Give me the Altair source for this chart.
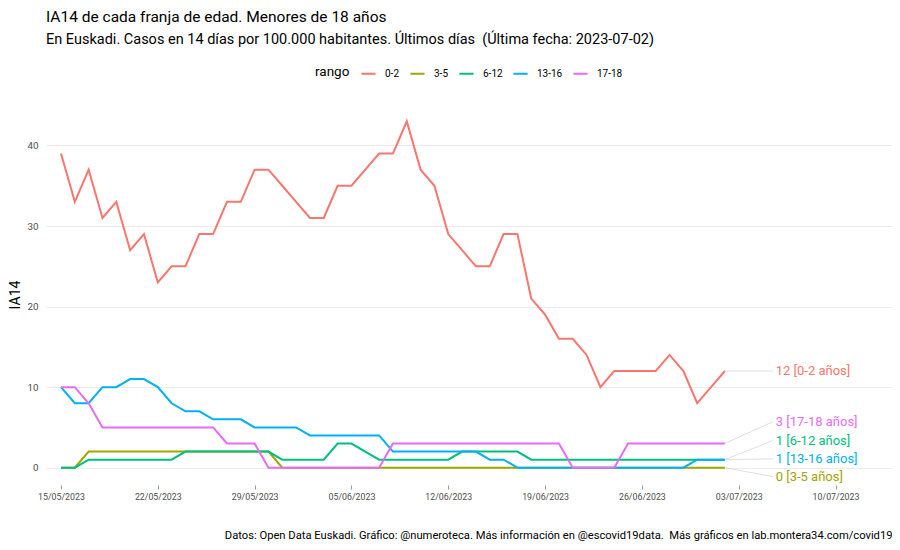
import altair as alt
import pandas as pd

FONT = "Roboto, sans-serif"

fechas = pd.date_range("2023-05-15", "2023-07-02", freq="D").strftime("%Y-%m-%d").tolist()
rangos = ["0-2", "3-5", "6-12", "13-16", "17-18"]
colores = ["#F8766D", "#A3A500", "#00BF7D", "#00B0F6", "#E76BF3"]

ia_0_2 = [39, 33, 37, 31, 33, 27, 29, 23, 25, 25, 29, 29, 33, 33, 37, 37, 35,
          33, 31, 31, 35, 35, 37, 39, 39, 43, 37, 35, 29, 27, 25, 25, 29, 29, 21, 19, 16, 16, 14, 10,
          12, 12, 12, 12, 14, 12, 8, 10, 12]
ia_3_5 = [0, 0, 2, 2, 2, 2, 2, 2, 2, 2, 2, 2, 2, 2, 2, 2, 0,
          0, 0, 0, 0, 0, 0, 0, 0, 0, 0, 0, 0, 0, 0, 0, 0, 0, 0, 0, 0, 0, 0, 0,
          0, 0, 0, 0, 0, 0, 0, 0, 0]
ia_6_12 = [0, 0, 1, 1, 1, 1, 1, 1, 1, 2, 2, 2, 2, 2, 2, 2, 1,
           1, 1, 1, 3, 3, 2, 1, 1, 1, 1, 1, 1, 2, 2, 2, 2, 2, 1, 1, 1, 1, 1, 1,
           1, 1, 1, 1, 1, 1, 1, 1, 1]
ia_13_16 = [10, 8, 8, 10, 10, 11, 11, 10, 8, 7, 7, 6, 6, 6, 5, 5, 5,
            5, 4, 4, 4, 4, 4, 4, 2, 2, 2, 2, 2, 2, 2, 1, 1, 0, 0, 0, 0, 0, 0, 0,
            0, 0, 0, 0, 0, 0, 1, 1, 1]
ia_17_18 = [10, 10, 8, 5, 5, 5, 5, 5, 5, 5, 5, 5, 3, 3, 3, 0, 0,
            0, 0, 0, 0, 0, 0, 0, 3, 3, 3, 3, 3, 3, 3, 3, 3, 3, 3, 3, 3, 0, 0, 0,
            0, 3, 3, 3, 3, 3, 3, 3, 3]

series = [ia_0_2, ia_3_5, ia_6_12, ia_13_16, ia_17_18]

# right-hand labels
etiquetas = ["12 [0-2 años]", "0 [3-5 años]", "1 [6-12 años]", "1 [13-16 años]", "3 [17-18 años]"]
etiqueta_y = [12, -1.1, 3.35, 1.1, 5.7]
fecha_ultima = "2023-07-02"
fecha_etiqueta = "2023-07-05T11:00:00Z"

tick_fechas = ["2023-05-15", "2023-05-22", "2023-05-29", "2023-06-05", "2023-06-12",
               "2023-06-19", "2023-06-26", "2023-07-03", "2023-07-10"]

titulo = "IA14 de cada franja de edad. Menores de 18 años"
subtitulo = "En Euskadi. Casos en 14 días por 100.000 habitantes. Últimos días\u00a0 (Última fecha: 2023-07-02)"
caption = ("Datos: Open Data Euskadi. Gráfico: @numeroteca. Más información en @escovid19data.\u00a0 "
           "Más gráficos en lab.montera34.com/covid19")

rows = []
for r, vals in zip(rangos, series):
    for f, v in zip(fechas, vals):
        rows.append({"fecha": f, "IA14": v, "rango": r})
df = pd.DataFrame(rows)

df_lab = pd.DataFrame({
    "rango": rangos,
    "valor": [s[-1] for s in series],
    "ly": etiqueta_y,
    "texto": etiquetas,
    "f0": [fecha_ultima] * 5,
    "f1": [fecha_etiqueta] * 5,
})

def ms(d):
    return int(pd.Timestamp(d, tz="UTC").timestamp() * 1000)

x_domain = [ms("2023-05-13T22:00"), ms("2023-07-14T02:00")]
tick_vals = [ms(d) for d in tick_fechas]

xscale = alt.Scale(type="utc", domain=x_domain)
yscale = alt.Scale(domain=[-2.15, 45.15], nice=False, zero=False)
cscale = alt.Scale(domain=rangos, range=colores)

lines = alt.Chart(df).mark_line(strokeWidth=2).encode(
    x=alt.X("fecha:T", scale=xscale,
            axis=alt.Axis(values=tick_vals, format="%d/%m/%Y", title=caption,
                          titleAnchor="end", titleFontSize=11.2, titleFontWeight="normal",
                          titleColor="black", titlePadding=29, titleFont=FONT,
                          labelFontSize=8.8, labelColor="#4D4D4D", labelFont=FONT,
                          grid=False, domain=False, ticks=True, tickSize=4,
                          tickColor="#999999", labelPadding=3)),
    y=alt.Y("IA14:Q", scale=yscale,
            axis=alt.Axis(values=[0, 10, 20, 30, 40], title="IA14", titleFontSize=14,
                          titleFontWeight="normal", titleColor="black", titleFont=FONT,
                          labelFontSize=9.8, labelColor="#4D4D4D", labelFont=FONT,
                          grid=True, gridColor="#EBEBEB", gridWidth=1.2,
                          domain=False, ticks=False, labelPadding=8, titlePadding=4)),
    color=alt.Color("rango:N", scale=cscale, sort=rangos,
                    legend=alt.Legend(title="rango", orient="none", legendX=269, legendY=-39,
                                      direction="horizontal", titleOrient="left",
                                      titleFontSize=13.5, titleFontWeight="normal",
                                      titleColor="black", titleFont=FONT, titlePadding=10,
                                      labelFontSize=10, labelFont=FONT, labelColor="black",
                                      symbolType="stroke", symbolSize=200,
                                      symbolStrokeWidth=2, labelOffset=8,
                                      columnPadding=6)),
)

segs = alt.Chart(df_lab).mark_rule(color="#D0D0D0", strokeWidth=0.7).encode(
    x="f0:T", x2="f1:T", y="valor:Q", y2="ly:Q")

texts = alt.Chart(df_lab).mark_text(align="left", baseline="middle", dx=3,
                                    fontSize=13, font=FONT).encode(
    x="f1:T", y="ly:Q", text="texto:N",
    color=alt.Color("rango:N", scale=cscale, legend=None))

chart = alt.layer(lines, segs, texts).properties(
    width=846, height=381,
    autosize=alt.AutoSizeParams(type="none"),
    padding={"left": 38, "top": 96, "right": 0, "bottom": 57},
    title=alt.TitleParams(text=titulo, subtitle=subtitulo, anchor="start", frame="group",
                          font=FONT, subtitleFont=FONT, fontSize=15.5, subtitleFontSize=14.5,
                          fontWeight="normal", color="black", subtitleColor="black",
                          subtitlePadding=7, offset=19),
).configure_view(stroke=None)

chart.save("out.html", embed_options={"renderer": "svg", "actions": False})
